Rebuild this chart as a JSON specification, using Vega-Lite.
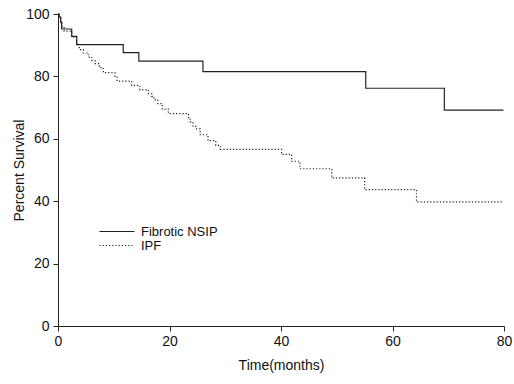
{
  "$schema": "https://vega.github.io/schema/vega-lite/v6.json",
  "width": 446,
  "height": 312,
  "autosize": {"type": "none"},
  "padding": {"left": 58, "top": 14, "right": 10, "bottom": 58},
  "background": "white",
  "config": {
    "view": {"stroke": null},
    "font": "Liberation Sans",
    "axis": {"domainColor": "#222", "tickColor": "#222", "labelColor": "#111", "titleColor": "#111", "labelFont": "Liberation Sans", "titleFont": "Liberation Sans", "labelFontSize": 14, "titleFontSize": 14, "titleFontWeight": "normal", "tickSize": 5, "grid": false, "domainWidth": 1, "tickWidth": 1}
  },
  "data": {
    "values": [
      {"series": "Fibrotic NSIP", "month": 0, "pct": 100},
      {"series": "Fibrotic NSIP", "month": 0.23, "pct": 99},
      {"series": "Fibrotic NSIP", "month": 0.48, "pct": 97.4},
      {"series": "Fibrotic NSIP", "month": 0.66, "pct": 95.2},
      {"series": "Fibrotic NSIP", "month": 2.46, "pct": 92.8},
      {"series": "Fibrotic NSIP", "month": 3.35, "pct": 90.2},
      {"series": "Fibrotic NSIP", "month": 11.7, "pct": 87.6},
      {"series": "Fibrotic NSIP", "month": 14.5, "pct": 84.9},
      {"series": "Fibrotic NSIP", "month": 26.0, "pct": 81.5},
      {"series": "Fibrotic NSIP", "month": 55.2, "pct": 76.2},
      {"series": "Fibrotic NSIP", "month": 69.3, "pct": 69.2},
      {"series": "Fibrotic NSIP", "month": 79.9, "pct": 69.2},
      {"series": "IPF", "month": 0, "pct": 100},
      {"series": "IPF", "month": 0.25, "pct": 99},
      {"series": "IPF", "month": 0.5, "pct": 97.5},
      {"series": "IPF", "month": 0.7, "pct": 96},
      {"series": "IPF", "month": 1.1, "pct": 94.5},
      {"series": "IPF", "month": 2.46, "pct": 92.6},
      {"series": "IPF", "month": 3.35, "pct": 90.5},
      {"series": "IPF", "month": 3.82, "pct": 88.6},
      {"series": "IPF", "month": 4.54, "pct": 87.5},
      {"series": "IPF", "month": 5.43, "pct": 86.2},
      {"series": "IPF", "month": 6.04, "pct": 85.1},
      {"series": "IPF", "month": 6.64, "pct": 84.1},
      {"series": "IPF", "month": 7.41, "pct": 82.8},
      {"series": "IPF", "month": 8.13, "pct": 81.2},
      {"series": "IPF", "month": 10.2, "pct": 79.8},
      {"series": "IPF", "month": 10.6, "pct": 78.5},
      {"series": "IPF", "month": 13.2, "pct": 77.1},
      {"series": "IPF", "month": 14.7, "pct": 75.7},
      {"series": "IPF", "month": 16.2, "pct": 74.5},
      {"series": "IPF", "month": 16.8, "pct": 73.6},
      {"series": "IPF", "month": 17.2, "pct": 72.5},
      {"series": "IPF", "month": 17.9, "pct": 71.3},
      {"series": "IPF", "month": 18.7, "pct": 69.5},
      {"series": "IPF", "month": 19.8, "pct": 68.1},
      {"series": "IPF", "month": 23.4, "pct": 66.8},
      {"series": "IPF", "month": 23.7, "pct": 65.4},
      {"series": "IPF", "month": 24.2, "pct": 64.1},
      {"series": "IPF", "month": 24.7, "pct": 63.2},
      {"series": "IPF", "month": 25.5, "pct": 61.3},
      {"series": "IPF", "month": 26.9, "pct": 59.4},
      {"series": "IPF", "month": 28.3, "pct": 57.9},
      {"series": "IPF", "month": 29.1, "pct": 56.6},
      {"series": "IPF", "month": 40.1, "pct": 55.0},
      {"series": "IPF", "month": 41.9, "pct": 52.8},
      {"series": "IPF", "month": 43.4, "pct": 50.4},
      {"series": "IPF", "month": 49.1, "pct": 47.5},
      {"series": "IPF", "month": 55.0, "pct": 43.7},
      {"series": "IPF", "month": 64.3, "pct": 39.8},
      {"series": "IPF", "month": 79.7, "pct": 39.8}
    ]
  },
  "mark": {"type": "line", "interpolate": "step-after", "color": "#222", "strokeWidth": 1.2},
  "encoding": {
    "x": {"field": "month", "type": "quantitative", "scale": {"domain": [0, 80], "nice": false}, "axis": {"values": [0, 20, 40, 60, 80], "title": "Time(months)", "labelPadding": 3, "titlePadding": 10, "labelFlush": false}},
    "y": {"field": "pct", "type": "quantitative", "scale": {"domain": [0, 100], "nice": false}, "axis": {"values": [0, 20, 40, 60, 80, 100], "title": "Percent Survival", "labelPadding": 4, "titleX": -35, "titleY": 156, "titleAngle": -90, "titleAlign": "center", "titleBaseline": "alphabetic"}},
    "strokeDash": {
      "field": "series", "type": "nominal",
      "scale": {"domain": ["Fibrotic NSIP", "IPF"], "range": [[1, 0], [1.2, 2]]},
      "legend": {"title": null, "orient": "none", "legendX": 35, "legendY": 211, "padding": 0, "symbolType": "M0,0H7", "symbolSize": 100, "symbolStrokeColor": "#222", "symbolStrokeWidth": 1.2, "labelFont": "Liberation Sans", "labelFontSize": 13, "labelColor": "#111", "labelOffset": 35, "rowPadding": 0}
    }
  }
}
